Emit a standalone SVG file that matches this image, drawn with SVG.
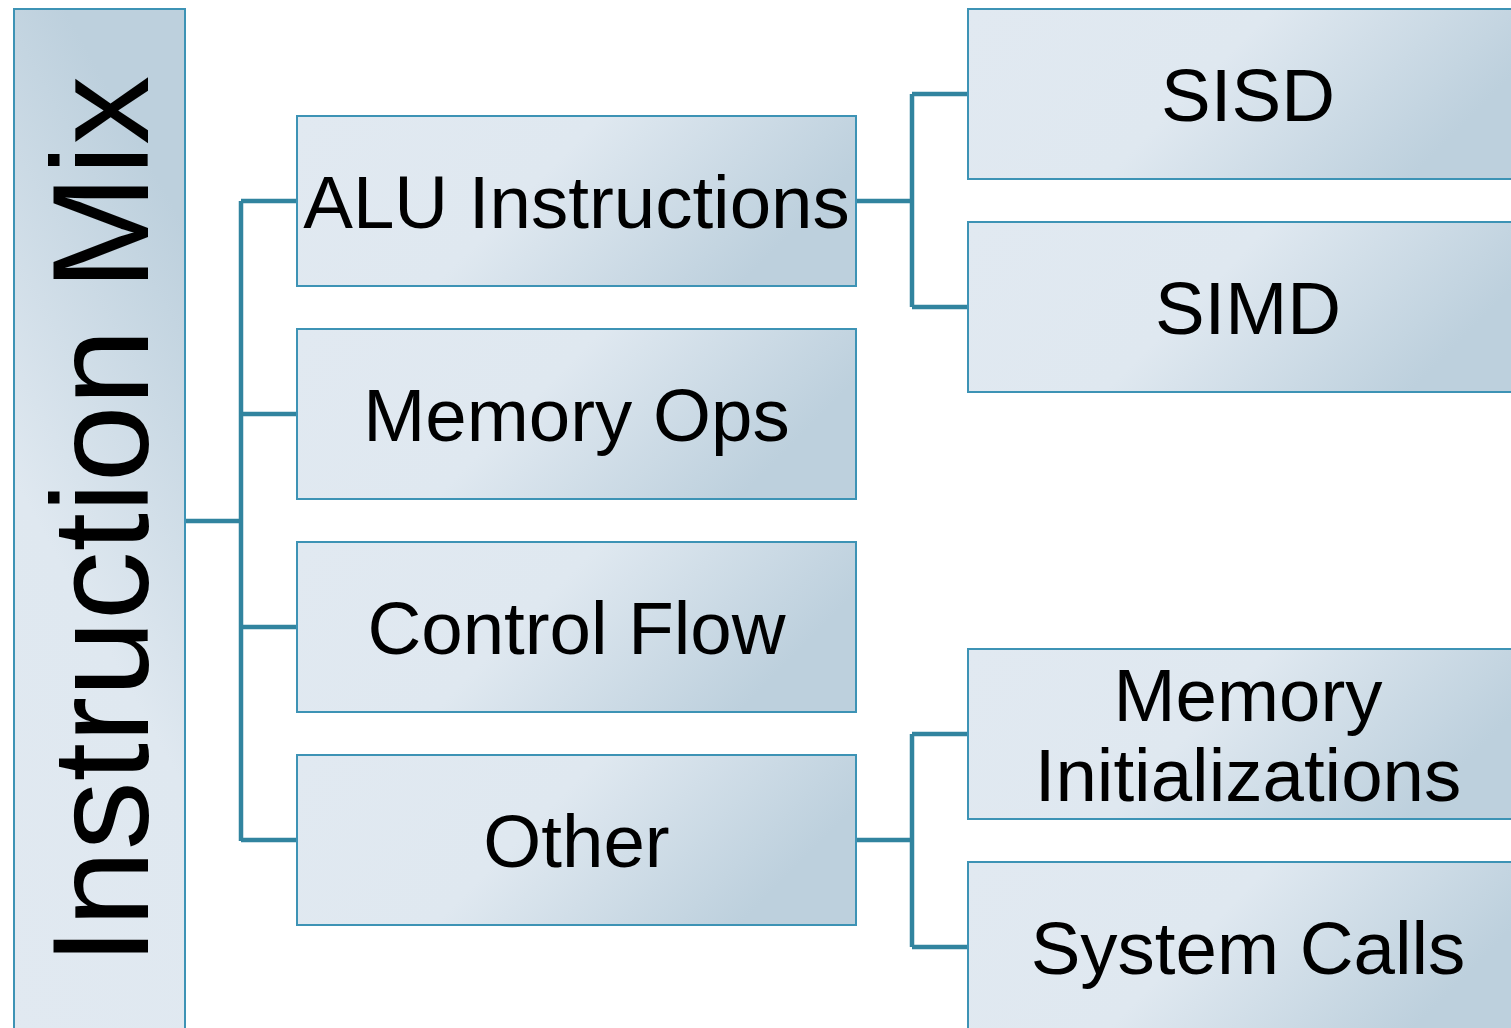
<svg xmlns="http://www.w3.org/2000/svg" width="1511" height="1028" viewBox="0 0 1511 1028">
<defs>
<linearGradient id="g" x1="0" y1="0" x2="1" y2="0.3">
<stop offset="0" stop-color="#e1e9f1"/>
<stop offset="0.5" stop-color="#dfe8f0"/>
<stop offset="1" stop-color="#bdd0dd"/>
</linearGradient>
<linearGradient id="gv" x1="0" y1="1" x2="0.3" y2="0">
<stop offset="0" stop-color="#e1e9f1"/>
<stop offset="0.5" stop-color="#dfe8f0"/>
<stop offset="1" stop-color="#bdd0dd"/>
</linearGradient>
</defs>
<style>
.box{fill:url(#g);stroke:#3d93b5;stroke-width:2}
.lbl{font-family:"Liberation Sans",Arial,sans-serif;font-size:74.5px;fill:#000;text-anchor:middle}
.conn{fill:none;stroke:#31849f;stroke-width:4.5;stroke-linejoin:miter}
</style>
<rect width="1511" height="1028" fill="#fff"/>
<g id="connectors">
<path class="conn" d="M185 521H241M241 201V841M241 201H297M241 414H297M241 627H297M241 840H297"/>
<path class="conn" d="M856 201H912M912 94V307M912 94H968M912 307H968"/>
<path class="conn" d="M856 840H912M912 734V947M912 734H968M912 947H968"/>
</g>
<g id="instruction-mix">
<rect x="14" y="9" width="171" height="1035" fill="url(#gv)" stroke="#3d93b5" stroke-width="2"/>
<text class="lbl" style="font-size:138px" transform="translate(148 520.5) rotate(-90)">Instruction Mix</text>
</g>
<g id="alu">
<rect class="box" x="297" y="116" width="559" height="170"/>
<text class="lbl" x="576.5" y="228">ALU Instructions</text>
</g>
<g id="memory-ops">
<rect class="box" x="297" y="329" width="559" height="170"/>
<text class="lbl" x="576.5" y="441">Memory Ops</text>
</g>
<g id="control-flow">
<rect class="box" x="297" y="542" width="559" height="170"/>
<text class="lbl" x="576.5" y="654">Control Flow</text>
</g>
<g id="other">
<rect class="box" x="297" y="755" width="559" height="170"/>
<text class="lbl" x="576.5" y="867">Other</text>
</g>
<g id="sisd">
<rect class="box" x="968" y="9" width="559" height="170"/>
<text class="lbl" x="1248" y="121">SISD</text>
</g>
<g id="simd">
<rect class="box" x="968" y="222" width="559" height="170"/>
<text class="lbl" x="1248" y="334">SIMD</text>
</g>
<g id="memory-init">
<rect class="box" x="968" y="649" width="559" height="170"/>
<text class="lbl" x="1248" y="721">Memory</text>
<text class="lbl" x="1248" y="801">Initializations</text>
</g>
<g id="system-calls">
<rect class="box" x="968" y="862" width="559" height="170"/>
<text class="lbl" x="1248" y="974">System Calls</text>
</g>
</svg>
